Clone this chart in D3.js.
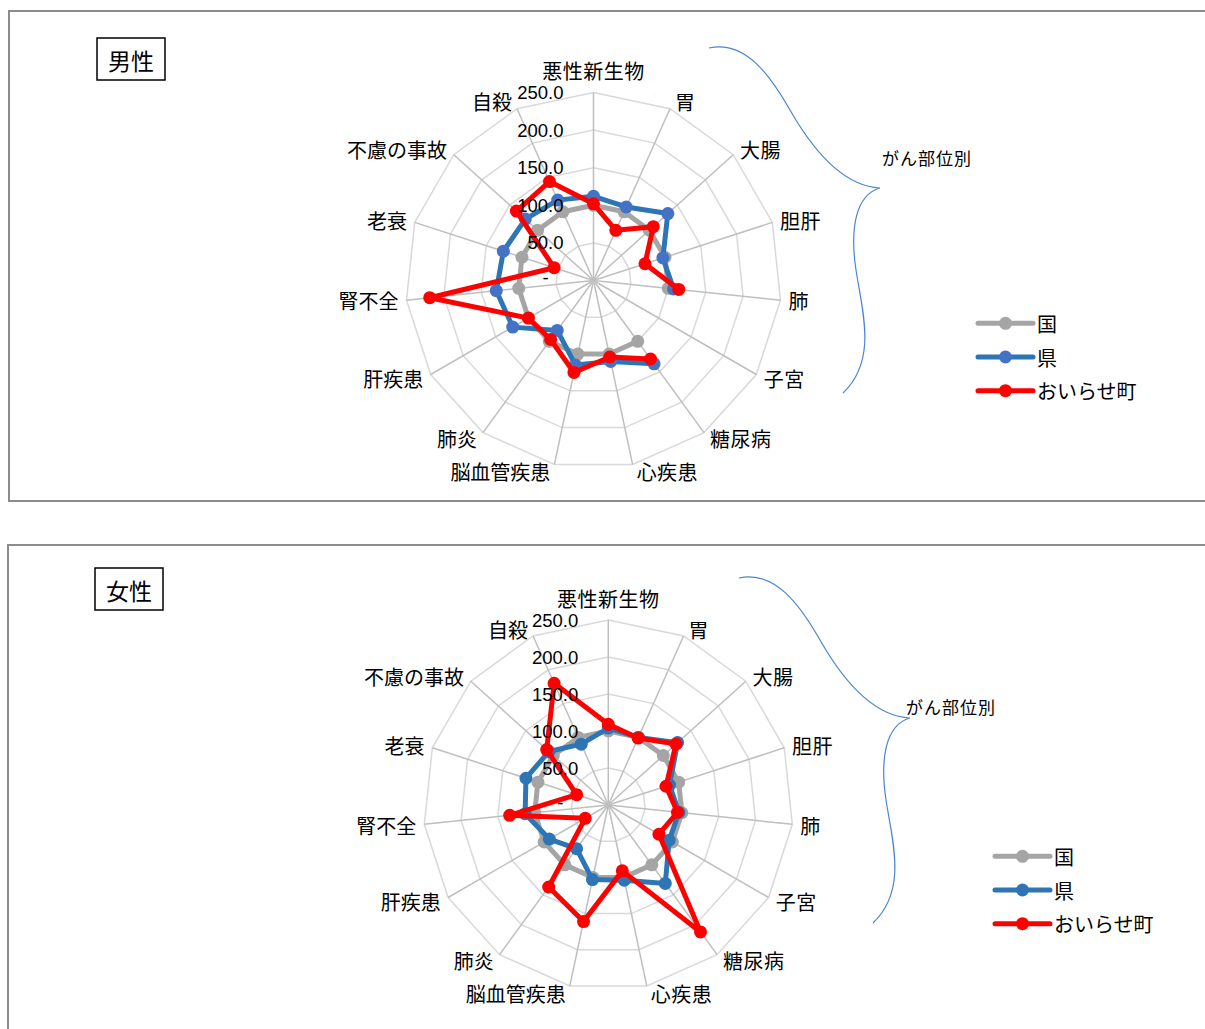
<!DOCTYPE html>
<html>
<head>
<meta charset="utf-8">
<script src="https://cdn.jsdelivr.net/npm/d3@7"></script>
<style>
  html, body { margin: 0; padding: 0; background: #fff; }
  svg { display: block; }
  text { font-family: "Noto Sans CJK JP", "Noto Sans", sans-serif; fill: #000; }
  .num { font-family: "Liberation Sans", Arial, sans-serif; }
</style>
</head>
<body>
<svg id="chart" width="1205" height="1029"></svg>
<script>
// Standardized mortality ratio by cause of death (national = 100)
const categories = ["悪性新生物", "胃", "大腸", "胆肝", "肺", "子宮", "糖尿病", "心疾患",
  "脳血管疾患", "肺炎", "肝疾患", "腎不全", "老衰", "不慮の事故", "自殺"];
const tickValues = [0, 50, 100, 150, 200, 250];
const tickLabels = ["-", "50.0", "100.0", "150.0", "200.0", "250.0"];
const seriesNames = ["国", "県", "おいらせ町"];

// 男性 (子宮 is blank for men)
const maleNational = [100, 100, 100, 100, 100, null, 100, 100, 100, 100, 100, 100, 100, 100, 100];
const maleKen      = [112, 107, 133, 97, 107, null, 137, 110, 115, 82, 124, 130, 126, 122, 117];
const maleTown     = [102, 73, 107, 72, 114, null, 129, 104, 125, 97, 100, 219, 55, 138, 144];

// 女性
const femaleNational = [100, 100, 100, 100, 100, 100, 100, 100, 100, 100, 100, 100, 100, 100, 100];
const femaleKen      = [104, 100, 126, 87, 96, 95, 131, 104, 103, 73, 92, 113, 117, 108, 90];
const femaleTown     = [109, 99, 123, 82, 94, 79, 212, 91, 161, 137, 36, 134, 45, 112, 180];

const svg = d3.select("#chart");
const n = categories.length;
const angle = i => i * 2 * Math.PI / n;

function drawPanel(cfg) {
  const g = svg.append("g");

  // panel frame
  g.append("rect")
    .attr("x", cfg.frame[0]).attr("y", cfg.frame[1])
    .attr("width", cfg.frame[2]).attr("height", cfg.frame[3])
    .attr("fill", "none").attr("stroke", "#8c8c8c").attr("stroke-width", 2);

  // title box
  g.append("rect")
    .attr("x", cfg.title[0]).attr("y", cfg.title[1])
    .attr("width", 68).attr("height", 42)
    .attr("fill", "#fff").attr("stroke", "#000").attr("stroke-width", 1.5);
  g.append("text")
    .attr("x", cfg.title[0] + 34).attr("y", cfg.title[1] + 22)
    .attr("text-anchor", "middle").attr("dominant-baseline", "central")
    .attr("font-size", 23).text(cfg.name);

  const r = d3.scaleLinear().domain([0, 250]).range([0, cfg.R]);
  const pg = g.append("g").attr("transform", `translate(${cfg.cx},${cfg.cy})`);
  const pt = (i, v) => [Math.sin(angle(i)) * r(v), -Math.cos(angle(i)) * r(v)];

  // polygon gridlines
  tickValues.slice(1).forEach(t => {
    const pts = d3.range(n).map(i => pt(i, t));
    pg.append("path")
      .attr("d", d3.line()(pts) + "Z")
      .attr("fill", "none").attr("stroke", "#d9d9d9").attr("stroke-width", 1.5);
  });
  // spokes
  d3.range(n).forEach(i => {
    const [x, y] = pt(i, 250);
    pg.append("line").attr("x1", 0).attr("y1", 0).attr("x2", x).attr("y2", y)
      .attr("stroke", "#bfbfbf").attr("stroke-width", 1.5);
  });

  // category labels
  d3.range(n).forEach(i => {
    const s = Math.sin(angle(i)), c = Math.cos(angle(i));
    const [x, y] = pt(i, 250);
    let anchor = "middle", lx = x, ly = y - 7.5 * c;
    if (i === 0) { ly = y - 22; }
    else if (s > 0.05) { anchor = "start"; lx = x + 3 + 5 * Math.abs(s); }
    else if (s < -0.05) { anchor = "end"; lx = x - 3 - 5 * Math.abs(s); }
    pg.append("text")
      .attr("x", lx).attr("y", ly)
      .attr("text-anchor", anchor).attr("dominant-baseline", "central")
      .attr("font-size", 20).attr("letter-spacing", anchor === "end" ? 0 : 0.5)
      .text(categories[i]);
  });

  // series
  const series = [
    { name: seriesNames[0], values: cfg.data[0], line: "#a5a5a5", dot: "#a5a5a5" },
    { name: seriesNames[1], values: cfg.data[1], line: "#2e75b6", dot: cfg.kenDot },
    { name: seriesNames[2], values: cfg.data[2], line: "#ff0000", dot: "#ff0000" }
  ];
  const radial = d3.lineRadial()
    .angle(d => angle(d.i))
    .radius(d => r(d.v))
    .defined(d => d.v != null);
  series.forEach(s => {
    const pts = s.values.map((v, i) => ({ i, v }));
    const loop = pts.concat([{ i: n, v: s.values[0] }]);
    pg.append("path")
      .attr("d", radial(loop))
      .attr("fill", "none").attr("stroke", s.line).attr("stroke-width", 5)
      .attr("stroke-linejoin", "round");
    pg.selectAll(null).data(pts.filter(d => d.v != null)).enter()
      .append("circle")
      .attr("cx", d => pt(d.i, d.v)[0]).attr("cy", d => pt(d.i, d.v)[1])
      .attr("r", 6.5).attr("fill", s.dot);
  });

  // value axis labels
  tickValues.forEach((t, k) => {
    const y = -r(t);
    const isZero = t === 0;
    pg.append("text")
      .attr("class", "num")
      .attr("x", isZero ? -48 : -30).attr("y", isZero ? y - 3 : y)
      .attr("text-anchor", isZero ? "middle" : "end")
      .attr("dominant-baseline", "central")
      .attr("font-size", 18.5).text(tickLabels[k]);
  });

  // legend
  series.forEach((s, k) => {
    const ly = cfg.legend[1] + k * 33.7;
    const lx = cfg.legend[0];
    g.append("line").attr("x1", lx).attr("x2", lx + 55).attr("y1", ly).attr("y2", ly)
      .attr("stroke", s.line).attr("stroke-width", 5).attr("stroke-linecap", "round");
    g.append("circle").attr("cx", lx + 27.5).attr("cy", ly).attr("r", 6.5).attr("fill", s.dot);
    g.append("text").attr("x", lx + 59).attr("y", ly)
      .attr("dominant-baseline", "central").attr("font-size", 20).text(s.name);
  });

  // brace grouping the cancer sites
  const [bx, by] = cfg.brace;
  g.append("path")
    .attr("transform", `translate(${bx},${by})`)
    .attr("d", "M709,48 C745,40 770,75 790,110 S840,186 880,188 C855,195 850,230 856,270 S878,360 843,393")
    .attr("fill", "none").attr("stroke", "#4a86cf").attr("stroke-width", 1.2);
  g.append("text")
    .attr("x", cfg.braceText[0]).attr("y", cfg.braceText[1])
    .attr("dominant-baseline", "central").attr("font-size", 17).attr("letter-spacing", 1)
    .text("がん部位別");
}

drawPanel({
  name: "男性", frame: [9, 11, 1210, 490], title: [97, 38],
  cx: 593.5, cy: 280.5, R: 188,
  data: [maleNational, maleKen, maleTown], kenDot: "#4472c4",
  legend: [978, 323.3], brace: [0, 0], braceText: [882, 157]
});
drawPanel({
  name: "女性", frame: [8, 545, 1210, 500], title: [95, 568],
  cx: 608.3, cy: 805, R: 185,
  data: [femaleNational, femaleKen, femaleTown], kenDot: "#2e75b6",
  legend: [995, 856.3], brace: [30, 530], braceText: [906, 706]
});
</script>
</body>
</html>
